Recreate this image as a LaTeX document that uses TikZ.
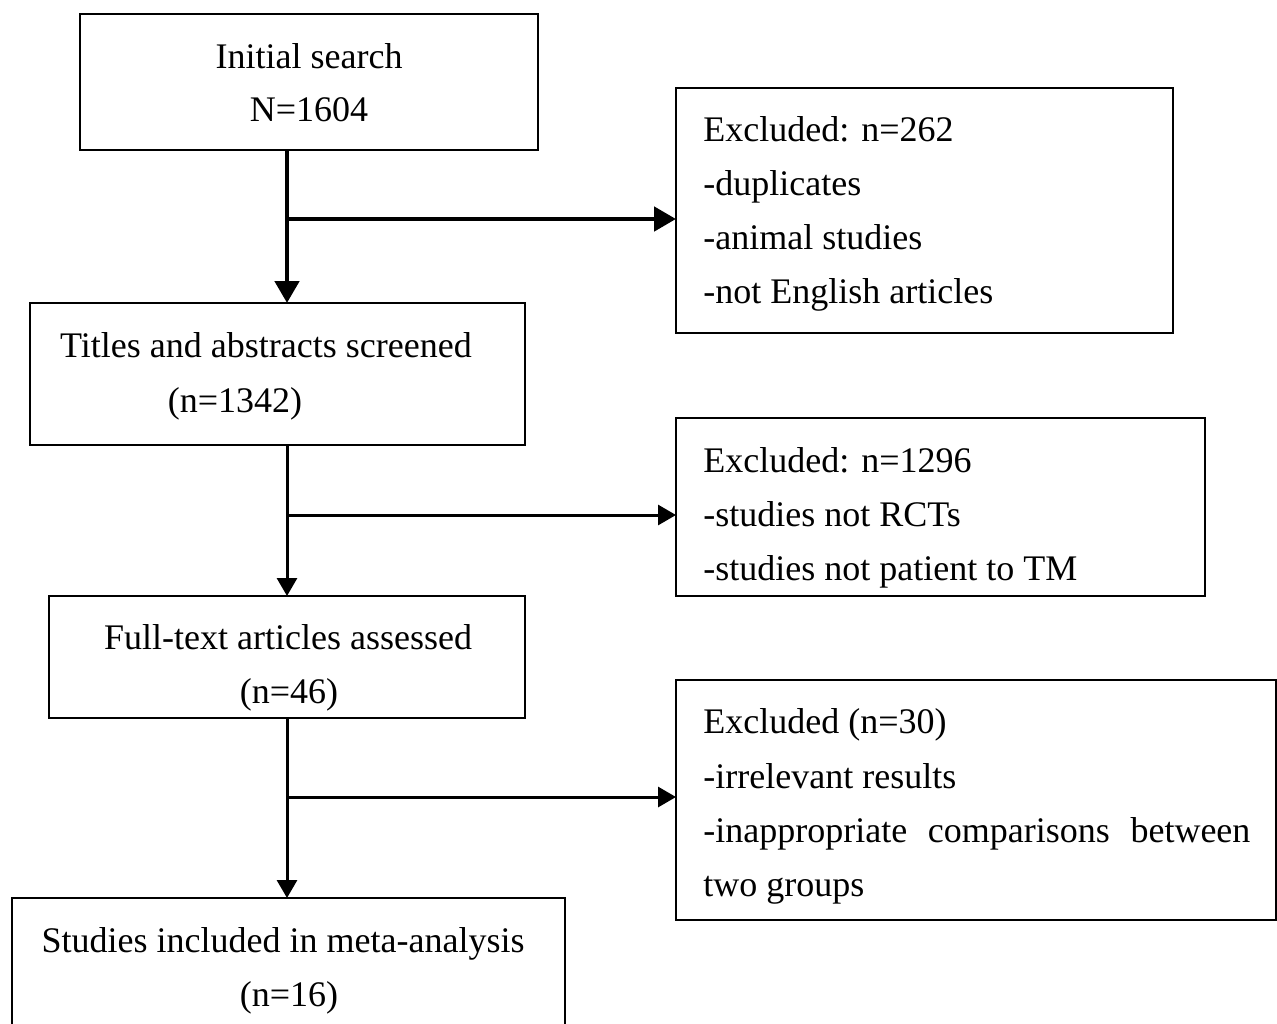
\documentclass[tikz,border=0pt]{standalone}
\usepackage{fontspec}
\setmainfont{Liberation Serif}
\usetikzlibrary{arrows.meta}
\begin{document}
\begin{tikzpicture}[x=0.5pt,y=-0.5pt,
  box/.style={draw=black, line width=1.3pt, rectangle, inner sep=0pt, outer sep=0pt},
  txt/.style={inner sep=0pt, font=\fontsize{18pt}{27pt}\selectfont},
  thickarr/.style={line width=2.4pt, -{Triangle[length=11pt,width=12pt]}},
  thinarr/.style={line width=1.5pt, -{Triangle[length=9pt,width=10pt]}},
  thickln/.style={line width=2.4pt},
  thinln/.style={line width=1.5pt}]
\useasboundingbox (0,0) rectangle (1277,1023);
\begin{scope}
\clip (0,0) rectangle (1277,1023);
% boxes
\node[box, minimum width=229pt, minimum height=68pt] (init) at (309,82) {};
\node[box, minimum width=248.5pt, minimum height=122.5pt] (ex1) at (924.5,210.5) {};
\node[box, minimum width=247.5pt, minimum height=71pt] (titles) at (277.5,374) {};
\node[box, minimum width=264.5pt, minimum height=89pt] (ex2) at (940.5,507) {};
\node[box, minimum width=238pt, minimum height=61pt] (full) at (287,657) {};
\node[box, minimum width=300pt, minimum height=120pt] (ex3) at (976,800) {};
\node[box, minimum width=276.5pt, minimum height=71pt] (incl) at (288.5,969) {};
% texts
\node[txt, anchor=base] (t1a) at (309,68) {Initial search};
\node[txt, anchor=base] (t1b) at (309,121) {N=1604};
\node[txt, anchor=base west] (e1a) at (703,141) {Excluded: n=262};
\node[txt, anchor=base west] (e1b) at (703,195) {-duplicates};
\node[txt, anchor=base west] (e1c) at (703,249) {-animal studies};
\node[txt, anchor=base west] (e1d) at (703,303) {-not English articles};
\node[txt, anchor=base] (t3a) at (266,357) {Titles and abstracts screened};
\node[txt, anchor=base] (t3b) at (235,412) {(n=1342)};
\node[txt, anchor=base west] (e2a) at (703,472) {Excluded: n=1296};
\node[txt, anchor=base west] (e2b) at (703,526) {-studies not RCTs};
\node[txt, anchor=base west] (e2c) at (703,580) {-studies not patient to TM};
\node[txt, anchor=base] (t5a) at (288,649) {Full-text articles assessed};
\node[txt, anchor=base] (t5b) at (289,703) {(n=46)};
\node[txt, anchor=base west] (e3a) at (703,733) {Excluded (n=30)};
\node[txt, anchor=base west] (e3b) at (703,788) {-irrelevant results};
\node[txt, anchor=base west] (e3c) at (703,842) {\hbox to 273.5pt{-inappropriate\hfill comparisons\hfill between}};
\node[txt, anchor=base west] (e3d) at (703,896) {two groups};
\node[txt, anchor=base] (t7a) at (283,952) {Studies included in meta-analysis};
\node[txt, anchor=base] (t7b) at (289,1006) {(n=16)};
% junctions
\coordinate (j1) at (287,219);
\coordinate (j2) at (287,515);
\coordinate (j3) at (287,797);
% connectors
\draw[thickarr] (init.south -| j1) -- (titles.north -| j1);
\draw[thickarr] (j1) -- (ex1.west |- j1);
\draw[thinarr] (titles.south -| j2) -- (full.north -| j2);
\draw[thinarr] (j2) -- (ex2.west |- j2);
\draw[thinarr] (full.south -| j3) -- (incl.north -| j3);
\draw[thinarr] (j3) -- (ex3.west |- j3);
\end{scope}
\end{tikzpicture}
\end{document}
